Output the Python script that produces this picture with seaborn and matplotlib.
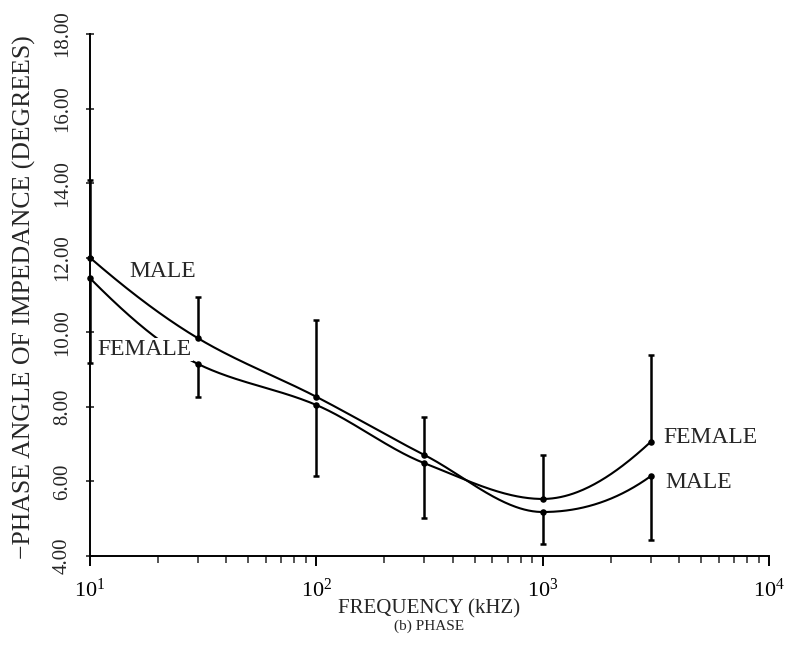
import numpy as np
import pandas as pd
import matplotlib
matplotlib.use("Agg")
import matplotlib.pyplot as plt
import seaborn as sns
from matplotlib.ticker import LogLocator, FixedLocator, FormatStrFormatter, NullFormatter

# ---------------- data ----------------
freq_khz = [10, 30, 100, 300, 1000, 3000]
male_phase = [12.00, 9.84, 8.27, 6.71, 5.18, 6.14]
female_phase = [11.45, 9.15, 8.05, 6.49, 5.53, 7.06]
male_sd = [2.08, 1.11, 2.06, 1.02, 0.86, 1.71]
female_sd = [2.28, 0.89, 1.90, 1.47, 1.18, 2.33]
y_ticks = [4, 6, 8, 10, 12, 14, 16, 18]
x_label = "FREQUENCY (kHZ)"
y_label = "\u2212PHASE ANGLE OF IMPEDANCE (DEGREES)"
caption = "(b) PHASE"
series_names = ["MALE", "FEMALE"]

# ---------------- style ----------------
sns.set_theme(style="ticks")
plt.rcParams["font.family"] = ["Liberation Serif", "DejaVu Serif"]
plt.rcParams["mathtext.fontset"] = "custom"
plt.rcParams["mathtext.rm"] = "Liberation Serif"
plt.rcParams["mathtext.it"] = "Liberation Serif"
plt.rcParams["axes.unicode_minus"] = True


def smooth_curve(x, y, n=400):
    """Monotone (PCHIP) cubic through the points in log10(x) space - drawing only."""
    lx = np.log10(np.asarray(x, float))
    y = np.asarray(y, float)
    h = np.diff(lx)
    delta = np.diff(y) / h
    m = len(lx)
    d = np.zeros(m)
    for k in range(1, m - 1):
        if delta[k - 1] * delta[k] <= 0:
            d[k] = 0.0
        else:
            w1 = 2 * h[k] + h[k - 1]
            w2 = h[k] + 2 * h[k - 1]
            d[k] = (w1 + w2) / (w1 / delta[k - 1] + w2 / delta[k])

    def end_slope(h0, h1, d0, d1):
        s = ((2 * h0 + h1) * d0 - h0 * d1) / (h0 + h1)
        if np.sign(s) != np.sign(d0):
            s = 0.0
        elif np.sign(d0) != np.sign(d1) and abs(s) > abs(3 * d0):
            s = 3 * d0
        return s

    d[0] = end_slope(h[0], h[1], delta[0], delta[1])
    d[-1] = end_slope(h[-1], h[-2], delta[-1], delta[-2])
    xs = np.linspace(lx[0], lx[-1], n)
    idx = np.clip(np.searchsorted(lx, xs, side="right") - 1, 0, m - 2)
    t = (xs - lx[idx]) / h[idx]
    h00 = 2 * t ** 3 - 3 * t ** 2 + 1
    h10 = t ** 3 - 2 * t ** 2 + t
    h01 = -2 * t ** 3 + 3 * t ** 2
    h11 = t ** 3 - t ** 2
    ys = (h00 * y[idx] + h10 * h[idx] * d[idx] + h01 * y[idx + 1]
          + h11 * h[idx] * d[idx + 1])
    return 10 ** xs, ys


fig = plt.figure(figsize=(7.94, 6.60), dpi=100)
ax = fig.add_axes([90 / 794, 1 - 556 / 660, (769 - 90) / 794, (556 - 34) / 660])

frames = []
for name, vals in zip(series_names, [male_phase, female_phase]):
    xs, ys = smooth_curve(freq_khz, vals)
    frames.append(pd.DataFrame({"freq": xs, "phase": ys, "sex": name}))
curve_df = pd.concat(frames, ignore_index=True)

sns.lineplot(data=curve_df, x="freq", y="phase", units="sex", estimator=None,
             color="black", linewidth=1.5, ax=ax, legend=False, zorder=3)

pts_df = pd.DataFrame({
    "freq": freq_khz * 2,
    "phase": male_phase + female_phase,
    "sex": ["MALE"] * len(freq_khz) + ["FEMALE"] * len(freq_khz),
})
sns.scatterplot(data=pts_df, x="freq", y="phase", color="black", s=22,
                edgecolor="black", linewidth=0, ax=ax, legend=False, zorder=4,
                clip_on=False)

# error bars: the upper curve's bar goes up, the lower curve's bar goes down
for i, f in enumerate(freq_khz):
    m, fe = male_phase[i], female_phase[i]
    if m >= fe:
        ends = [(m, m + male_sd[i]), (fe, fe - female_sd[i])]
    else:
        ends = [(m, m - male_sd[i]), (fe, fe + female_sd[i])]
    for y0, y1 in ends:
        ax.vlines(f, y0, y1, color="black", linewidth=1.8, zorder=4, clip_on=False)
        ax.scatter([f], [y1], marker="_", s=22, color="black", linewidths=1.8,
                   zorder=4, clip_on=False)

ax.set_xscale("log")
ax.set_xlim(10, 10000)
ax.set_ylim(4, 18)

ax.xaxis.set_major_locator(LogLocator(base=10, numticks=10))
ax.xaxis.set_minor_locator(LogLocator(base=10, subs=np.arange(2, 10), numticks=20))
ax.xaxis.set_minor_formatter(NullFormatter())
ax.yaxis.set_major_locator(FixedLocator(y_ticks))
ax.yaxis.set_major_formatter(FormatStrFormatter("%.2f"))

ax.tick_params(axis="x", which="major", direction="out", length=7, width=1.4,
               labelsize=16, pad=9, colors="black")
ax.tick_params(axis="x", which="minor", direction="out", length=5, width=1.1)
ax.tick_params(axis="y", which="major", direction="inout", length=6, width=1.2,
               labelsize=15, pad=10, labelrotation=90)
for lab in ax.get_yticklabels():
    lab.set_verticalalignment("center")

for side in ["top", "right"]:
    ax.spines[side].set_visible(False)
for side in ["left", "bottom"]:
    ax.spines[side].set_linewidth(1.4)
    ax.spines[side].set_color("black")

ax.set_xlabel("")
ax.set_ylabel("")
fig.text(429.5 / 794, 1 - 609 / 660, x_label, ha="center", va="center", fontsize=15)
fig.text(429.5 / 794, 1 - 626 / 660, caption, ha="center", va="center", fontsize=11)
fig.text(24 / 794, 1 - 297 / 660, y_label, ha="center", va="center",
         rotation=90, fontsize=18.5)

# curve labels
ax.text(15.0, 11.48, "MALE", fontsize=17, ha="left", va="baseline", zorder=5)
ax.text(10.74, 9.39, "FEMALE", fontsize=17, ha="left", va="baseline", zorder=5,
        bbox=dict(facecolor="white", edgecolor="none", pad=1.0))
ax.text(3404, 7.03, "FEMALE", fontsize=17, ha="left", va="baseline", zorder=5)
ax.text(3475, 5.82, "MALE", fontsize=17, ha="left", va="baseline", zorder=5)

fig.savefig("out.png", dpi=100, facecolor="white")
